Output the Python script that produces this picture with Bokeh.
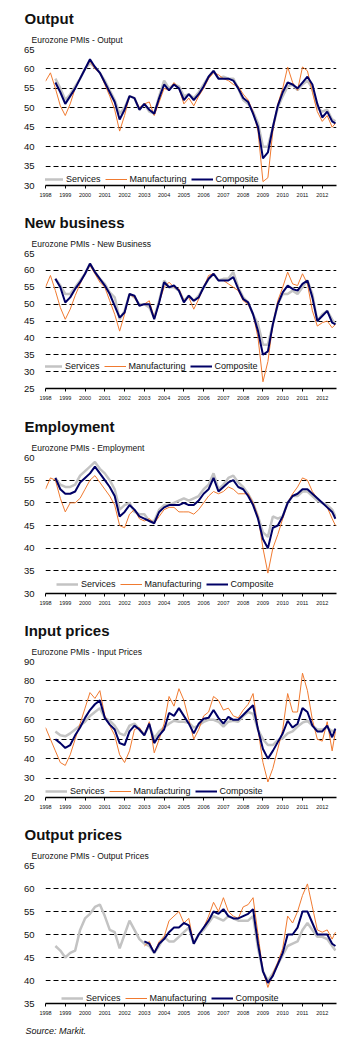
import numpy as np
from bokeh.plotting import figure
from bokeh.layouts import column
from bokeh.models import Range1d, FixedTicker, Legend, LegendItem, Title
from bokeh.embed import file_html
from bokeh.resources import INLINE

# time axis: quarterly readings (months since Jan 1998), last reading Sep 2012
months = list(range(0, 177, 3)) + [176]
dates = [1998 + m / 12 for m in months]
years = list(range(1998, 2013))

# ---------------- Output ----------------
out_services = [None, None, 57.5, 55, 52, 53.5, 55.5, 57.5, 60, 61.5, 60.5, 59,
                57, 54.5, 52, 48.5, 50, 53, 52.5, 49.5, 51, 49, 48.5, 53,
                57, 55, 56, 55.5, 53, 53.5, 52.5, 54, 56, 58, 59.5, 57.5,
                58, 57.5, 57.5, 55, 52, 51, 49, 46, 40, 40, 45, 50,
                53, 55.5, 56, 54.5, 56, 57, 55, 50, 49, 49.5, 47, 46.5]
out_manufacturing = [56.8, 59, 55, 50.5, 48, 51, 55, 57.5, 60, 62, 60, 59,
                     56, 53, 49.5, 44, 48, 53, 52.5, 50, 51, 51.5, 48, 51.5,
                     55, 54.5, 56.5, 55, 51, 52.5, 50.5, 53, 55, 57.5, 59, 58.5,
                     57.5, 57, 56, 55.5, 53.5, 52, 49, 44, 31, 32, 44, 51,
                     55, 60.5, 56.5, 54.5, 60.5, 59.5, 54, 49, 46.5, 48, 45, 46]
out_composite = [None, None, 56.5, 54, 51, 53, 55, 57.5, 60, 62.5, 60.5, 59,
                 56.5, 54, 51.5, 47, 49.5, 53, 52.5, 49.5, 51, 49.5, 48.5, 52.5,
                 56, 54.5, 56, 55, 52, 53.5, 52, 53.5, 55.5, 58, 59.5, 57.5,
                 57.5, 57.5, 57, 55, 52.5, 51.5, 48.5, 45, 37, 38.5, 45, 50.5,
                 54, 56.5, 56, 55, 56.5, 58, 56, 51, 47.5, 49, 46.5, 46]

# ---------------- New business ----------------
nb_services = [None, None, 57.5, 55.5, 53, 53, 55, 57, 59, 62, 59.5, 57.5,
               56, 53.5, 52, 45.5, 48, 53, 52, 50, 50, 49, 46, 51,
               57, 55, 55, 54, 51, 52.5, 51, 52.5, 55, 57.5, 59, 57,
               57.5, 57.5, 59.5, 55, 52, 50.5, 47, 44, 38, 38, 44, 50,
               53, 53, 54, 53, 55, 57, 53, 45, 47, 48, 45.5, 44]
nb_manufacturing = [55, 58.5, 54, 49, 45.5, 48.5, 52.5, 56, 59, 61.5, 59, 56.5,
                    55, 51, 47, 42, 47, 53, 52, 49.5, 50, 51, 46, 50.5,
                    55, 56.5, 55, 54.5, 51, 52, 48.5, 51.5, 55, 58.5, 59, 57,
                    57, 56, 55, 54, 51, 50, 47, 40, 27, 33, 44, 51,
                    55, 59.5, 56, 55.5, 59, 56, 48, 43.5, 44.5, 45, 43, 44]
nb_composite = [None, None, 57.5, 55, 50.5, 52, 54.5, 56.5, 59, 62, 59.5, 57.5,
                55.5, 53, 49.5, 46, 47.5, 53, 52.5, 49.5, 50, 50, 45.5, 50.5,
                56.5, 55, 55.5, 54, 50.5, 52.5, 51, 52, 55, 57.5, 59, 57,
                57, 57, 58, 54.5, 51.5, 50.5, 47, 42, 35, 36, 44, 50,
                53.5, 55.5, 54.5, 54, 56, 57, 52, 45, 46.5, 48, 44.5, 44]

# ---------------- Employment ----------------
em_services = [None, None, 55.5, 54, 53.5, 53.5, 54, 56, 57, 58, 59, 57.5,
               56.5, 55, 53, 48.5, 49.5, 50, 48, 47.5, 47.5, 46, 46, 48.5,
               49.5, 49.5, 50, 50.5, 51, 50.5, 51, 51.5, 53, 54, 56.5, 53,
               54, 55.5, 56, 54.5, 53.5, 52, 50, 47, 43.5, 42.5, 47, 46.5,
               47, 50, 51.5, 51.5, 52.5, 52.5, 51.5, 50.5, 50, 49.5, 48.5, 47]
em_manufacturing = [53, 55.5, 55, 51, 48, 50, 50, 51, 53, 55, 56, 54.5,
                    53, 51.5, 49.5, 45, 44.5, 47.5, 48.5, 46.5, 46, 46.5, 45.5, 47,
                    48.5, 49, 49, 48, 48, 48, 47.5, 48.5, 50, 51.5, 52.5, 52,
                    52.5, 53.5, 53, 52, 52, 52, 50, 47, 40, 34.5, 40, 43,
                    46.5, 50, 52, 53.5, 55.5, 55, 52.5, 51, 50, 49, 46.5, 45]
em_composite = [None, None, 55.5, 53, 52, 52, 52.5, 54.5, 55.5, 56.5, 58, 56.5,
                55, 53.5, 51.5, 47, 48, 49.5, 48.5, 47, 46.5, 46, 45.5, 48,
                49, 49.5, 49.5, 49.5, 50, 49.5, 49.5, 50.5, 52, 53, 55.5, 52.5,
                53.5, 54.5, 55, 53.5, 53, 51.5, 49.5, 46.5, 42, 40, 44.5, 45,
                47, 50, 51.5, 52, 53, 53, 52, 51, 50, 49, 48, 46.5]

# ---------------- Input prices ----------------
ip_services = [None, None, 54, 52, 51.5, 53, 55, 57, 59, 62, 64, 66,
               61, 59.5, 57, 53, 52, 57, 58, 55, 52.5, 57, 50.5, 54,
               56, 58, 59.5, 59, 59, 58.5, 56, 57, 59, 60, 60, 59,
               56.5, 59, 59.5, 59, 62, 64, 63, 55, 50, 47, 47, 49.5,
               50.5, 53, 54, 56.5, 58.5, 59.5, 57, 55, 55, 56, 54, 55]
ip_manufacturing = [56, 50, 44, 38, 36.5, 42, 50, 58, 66, 74, 71, 75,
                    62, 57, 52, 42, 38, 44, 55, 56, 52, 59, 43, 50,
                    58, 72, 67, 76, 70, 60, 50, 55, 62, 64, 72, 70,
                    65, 66, 62, 61, 65, 68, 73.5, 55, 38, 28, 35, 45,
                    55, 73.5, 64, 64, 84, 75, 60, 50, 49, 59, 44, 54]
ip_composite = [None, None, 50, 48, 45.5, 47, 52, 56, 61, 65, 68, 70,
                61, 57.5, 55, 48, 47, 54, 57, 55, 52, 58, 48, 52,
                55, 63.5, 62, 66, 62, 58, 53, 58, 60.5, 61, 65, 61,
                58, 61.5, 60, 60, 62.5, 65, 67.5, 55, 45, 40, 44, 48.5,
                53, 59.5, 56, 58, 66, 64, 57, 54, 54, 57, 51, 55.5]

# ---------------- Output prices ----------------
op_services = [None, None, 47.5, 46.5, 45, 46, 46.5, 51, 53.5, 54.5, 56, 56.5,
               54, 51, 50.5, 47, 50, 53, 51, 49, 48, 47.5, 46, 47.5,
               49.5, 48.5, 48.5, 49.5, 50.5, 51.5, 48, 50, 51, 52.5, 54, 53.5,
               53, 54, 53.5, 53, 53, 53, 54, 47, 42, 40, 41.5, 43.5,
               45.5, 47.5, 48, 48.5, 51, 52.5, 51, 49.5, 49.5, 49, 47.5, 46.5]
op_manufacturing = [None] * 20 + [47.5, 48.5, 46, 48.5, 49.5, 53, 54, 55,
                                  52.5, 53.5, 48, 50, 51.5, 54, 57, 55,
                                  58, 55, 54, 53.5, 56, 56.5, 58, 50,
                                  42, 38.5, 41.5, 44, 47, 54, 52.5, 55,
                                  58.5, 61, 56, 51, 50.5, 51, 49, 50.5]
op_composite = [None] * 20 + [48.5, 48, 46, 48, 49, 50.5, 51.5, 51.5,
                              52.5, 52, 48, 50, 51.5, 53, 55, 54.5,
                              55.5, 54, 53.5, 53.5, 54, 54.5, 55.5, 48,
                              42, 39.5, 41, 43.5, 46, 50, 50, 51.5,
                              55, 55, 52.5, 50, 50, 50, 48, 47.5]

series_names = ["Services", "Manufacturing", "Composite"]

GRAY = "#c3c3c3"
ORANGE = "#f07a30"
NAVY = "#000066"
FONT = "Liberation Sans"


def make_panel(title, subtitle, ylo, yhi, ystep, data, h, top, bottom,
               leg_x, leg_y, leg_bg=False, source=None):
    p = figure(width=356, height=h, x_range=Range1d(1998, 2012.72),
               y_range=Range1d(ylo, yhi), output_backend="svg",
               toolbar_location=None, title=None, min_border_left=45,
               min_border_right=20, min_border_top=top, min_border_bottom=bottom)
    p.outline_line_color = None
    yt = list(range(ylo, yhi + 1, ystep))
    p.yaxis.ticker = FixedTicker(ticks=yt)
    p.ygrid.ticker = FixedTicker(ticks=yt[1:])
    p.ygrid.grid_line_color = "black"
    p.ygrid.grid_line_dash = "5 3"
    p.ygrid.grid_line_width = 1
    p.xgrid.visible = False
    p.yaxis.axis_line_color = None
    p.yaxis.major_tick_line_color = None
    p.yaxis.minor_tick_line_color = None
    p.yaxis.major_label_text_font = FONT
    p.yaxis.major_label_text_font_size = "9.5px"
    p.yaxis.major_label_text_color = "#111111"
    p.yaxis.major_label_standoff = 5
    p.xaxis.ticker = FixedTicker(ticks=years)
    p.xaxis.major_label_overrides = {y: str(y) for y in years}
    p.xaxis.minor_tick_line_color = None
    p.xaxis.major_tick_in = 0
    p.xaxis.major_tick_out = 3
    p.xaxis.axis_line_width = 1.5
    p.xaxis.major_tick_line_width = 1
    p.xaxis.major_label_text_font = FONT
    p.xaxis.major_label_text_font_size = "5.5px"
    p.xaxis.major_label_text_color = "#111111"
    p.xaxis.major_label_standoff = 4

    ser, man, com = [np.array(d, dtype=float) for d in data]
    r1 = p.line(dates, ser, line_color=GRAY, line_width=2.5)
    r2 = p.line(dates, man, line_color=ORANGE, line_width=1)
    r3 = p.line(dates, com, line_color=NAVY, line_width=2)

    legend = Legend(items=[LegendItem(label=series_names[0], renderers=[r1]),
                           LegendItem(label=series_names[1], renderers=[r2]),
                           LegendItem(label=series_names[2], renderers=[r3])],
                    location=(leg_x, leg_y), orientation="horizontal",
                    label_text_font=FONT, label_text_font_size="9px",
                    label_text_color="#111111",
                    glyph_width=22, glyph_height=10, label_height=10,
                    label_standoff=3, spacing=4, padding=2, margin=0,
                    border_line_color=None,
                    background_fill_color="white",
                    background_fill_alpha=1 if leg_bg else 0)
    p.add_layout(legend)

    # subtitle first (closest to the frame), then the bold heading above it
    p.add_layout(Title(text=subtitle, align="left", offset=-14, standoff=10,
                       text_font=FONT, text_font_style="normal",
                       text_font_size="8.5px", text_color="#111111"), "above")
    p.add_layout(Title(text=title, align="left", offset=-21, standoff=2,
                       text_font=FONT, text_font_style="bold",
                       text_font_size="15px", text_color="#111111"), "above")
    if source:
        p.add_layout(Title(text=source, align="left", offset=-20, standoff=12,
                           text_font=FONT, text_font_style="italic",
                           text_font_size="9px", text_color="#111111"), "below")
    return p


p1 = make_panel("Output", "Eurozone PMIs - Output", 30, 65, 5,
                (out_services, out_manufacturing, out_composite),
                204, 49, 19, -4, 1)
p2 = make_panel("New business", "Eurozone PMIs - New Business", 25, 65, 5,
                (nb_services, nb_manufacturing, nb_composite),
                204, 49, 20, -5, 17, leg_bg=True)
p3 = make_panel("Employment", "Eurozone PMIs - Employment", 30, 60, 5,
                (em_services, em_manufacturing, em_composite),
                204, 49, 19, 11, 4)
p4 = make_panel("Input prices", "Eurozone PMIs - Input Prices", 20, 90, 10,
                (ip_services, ip_manufacturing, ip_composite),
                210, 49, 25, 0, 1)
p5 = make_panel("Output prices", "Eurozone PMIs - Output Prices", 35, 65, 5,
                (op_services, op_manufacturing, op_composite),
                220, 43, 39, 16, 0, source="Source: Markit.")

layout = column(p1, p2, p3, p4, p5, spacing=0)
open("out.html", "w").write(file_html(layout, INLINE))
